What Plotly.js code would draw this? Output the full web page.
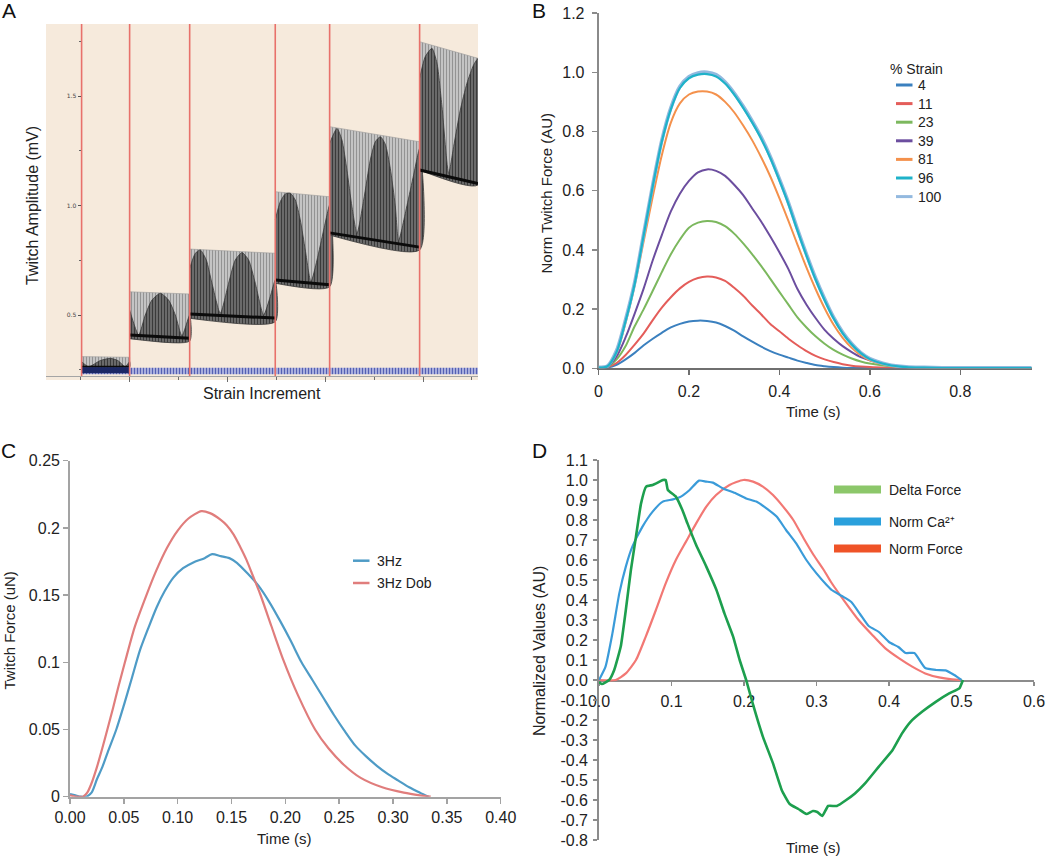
<!DOCTYPE html>
<html><head><meta charset="utf-8">
<script src="https://cdn.plot.ly/plotly-3.0.1.min.js"></script>
<style>html,body{margin:0;padding:0;background:#fff}</style>
</head><body>
<div id="chart" style="width:1050px;height:857px"></div>
<script>
// ---------------- Panel A data (strain increments, raw twitch trace envelopes) ----------------
const aBoundaries   = [0.509, 1.0, 1.614, 2.489, 3.045, 3.965];
const aRightEdge    = 4.562;
const aTopStart     = [0.310, 0.606, 0.801, 1.063, 1.360, 1.748];
const aTopEnd       = [0.307, 0.596, 0.782, 1.040, 1.291, 1.672];
const aBottomStart  = [0.262, 0.392, 0.485, 0.645, 0.865, 1.162];
const aBottomEnd    = [0.262, 0.381, 0.469, 0.629, 0.797, 1.094];
const aBlackStart   = [0.262, 0.409, 0.505, 0.660, 0.875, 1.162];
const aBlackEnd     = [0.262, 0.394, 0.486, 0.638, 0.810, 1.100];
const aDarkX = [
  [0.509, 0.581, 0.70, 0.802, 0.88, 0.956, 1.0],
  [1.0, 1.092, 1.16, 1.228, 1.314, 1.399, 1.467, 1.535, 1.614],
  [1.614, 1.672, 1.723, 1.784, 1.842, 1.927, 2.012, 2.08, 2.149, 2.217, 2.285, 2.37, 2.438, 2.489],
  [2.489, 2.54, 2.592, 2.643, 2.694, 2.745, 2.796, 2.854, 2.916, 2.984, 3.045],
  [3.045, 3.12, 3.171, 3.222, 3.273, 3.325, 3.393, 3.461, 3.512, 3.563, 3.614, 3.665, 3.716, 3.75, 3.836, 3.904, 3.965],
  [3.965, 4.023, 4.091, 4.143, 4.194, 4.262, 4.313, 4.381, 4.449, 4.517, 4.562]
];
const aDarkY = [
  [0.287, 0.264, 0.292, 0.302, 0.292, 0.264, 0.287],
  [0.523, 0.409, 0.50, 0.568, 0.599, 0.568, 0.50, 0.405, 0.50],
  [0.713, 0.782, 0.797, 0.751, 0.645, 0.508, 0.645, 0.751, 0.785, 0.751, 0.645, 0.50, 0.584, 0.66],
  [0.934, 1.017, 1.053, 1.056, 1.025, 0.934, 0.797, 0.652, 0.751, 0.888, 1.002],
  [1.284, 1.352, 1.299, 1.162, 0.995, 0.873, 1.025, 1.208, 1.291, 1.314, 1.28, 1.17, 1.0, 0.84, 1.0, 1.14, 1.261],
  [1.581, 1.68, 1.718, 1.649, 1.451, 1.147, 1.269, 1.436, 1.558, 1.642, 1.67]
];
const aBandBottom = 0.229, aBandTop = 0.259;          // stimulus marker band
const aFirstBandBottom = 0.234, aFirstBandTop = 0.262; // dark band in first increment

// ---------------- Panel B data ----------------
const bTime = [0, 0.02, 0.04, 0.06, 0.08, 0.10, 0.12, 0.14, 0.16, 0.18, 0.20, 0.22, 0.24, 0.26, 0.28, 0.30, 0.32, 0.34, 0.36, 0.38, 0.40, 0.42, 0.44, 0.46, 0.48, 0.50, 0.52, 0.54, 0.56, 0.58, 0.60, 0.64, 0.68, 0.72, 0.76, 0.80, 0.88, 0.958];
const bStrain4   = [0.002, 0.003, 0.012, 0.03, 0.052, 0.078, 0.1, 0.12, 0.138, 0.15, 0.158, 0.161, 0.16, 0.155, 0.143, 0.127, 0.108, 0.09, 0.073, 0.058, 0.046, 0.036, 0.026, 0.018, 0.011, 0.007, 0.004, 0.002, 0.001, 0.001, 0.001, 0.001, 0.001, 0.001, 0.001, 0.001, 0.001, 0.001];
const bStrain11  = [0.002, 0.004, 0.018, 0.045, 0.08, 0.118, 0.163, 0.205, 0.24, 0.27, 0.292, 0.305, 0.31, 0.307, 0.295, 0.272, 0.245, 0.212, 0.182, 0.15, 0.125, 0.1, 0.078, 0.058, 0.042, 0.03, 0.021, 0.014, 0.009, 0.006, 0.004, 0.002, 0.001, 0.001, 0.001, 0.001, 0.001, 0.001];
const bStrain23  = [0.002, 0.005, 0.03, 0.075, 0.142, 0.2, 0.262, 0.325, 0.385, 0.435, 0.475, 0.492, 0.498, 0.494, 0.48, 0.455, 0.422, 0.385, 0.345, 0.302, 0.258, 0.215, 0.172, 0.138, 0.108, 0.083, 0.062, 0.046, 0.033, 0.023, 0.016, 0.008, 0.004, 0.002, 0.001, 0.001, 0.001, 0.001];
const bStrain39  = [0.002, 0.006, 0.04, 0.105, 0.185, 0.27, 0.365, 0.45, 0.53, 0.59, 0.633, 0.662, 0.672, 0.667, 0.65, 0.62, 0.585, 0.54, 0.495, 0.445, 0.392, 0.335, 0.268, 0.215, 0.17, 0.13, 0.1, 0.075, 0.055, 0.038, 0.027, 0.012, 0.005, 0.002, 0.001, 0.001, 0.001, 0.001];
const bStrain81  = [0.002, 0.007, 0.052, 0.155, 0.28, 0.43, 0.58, 0.72, 0.83, 0.895, 0.925, 0.935, 0.935, 0.925, 0.9, 0.865, 0.82, 0.77, 0.712, 0.648, 0.575, 0.498, 0.418, 0.34, 0.268, 0.203, 0.147, 0.103, 0.069, 0.044, 0.027, 0.011, 0.004, 0.002, 0.001, 0.001, 0.001, 0.001];
const bStrain96  = [0.002, 0.007, 0.055, 0.16, 0.285, 0.45, 0.615, 0.765, 0.875, 0.947, 0.98, 0.992, 0.994, 0.986, 0.962, 0.925, 0.88, 0.83, 0.775, 0.71, 0.635, 0.555, 0.465, 0.38, 0.3, 0.23, 0.168, 0.118, 0.08, 0.051, 0.031, 0.012, 0.004, 0.002, 0.001, 0.001, 0.001, 0.001];
const bStrain100 = [0.003, 0.008, 0.06, 0.165, 0.29, 0.455, 0.62, 0.77, 0.88, 0.952, 0.985, 0.998, 1.0, 0.992, 0.967, 0.93, 0.885, 0.835, 0.78, 0.715, 0.64, 0.56, 0.47, 0.385, 0.305, 0.235, 0.172, 0.122, 0.083, 0.053, 0.033, 0.013, 0.005, 0.003, 0.002, 0.002, 0.002, 0.002];
const bNames  = ['4', '11', '23', '39', '81', '96', '100'];
const bXTicks = [0, 0.2, 0.4, 0.6, 0.8];
const bXTickText = ['0', '0.2', '0.4', '0.6', '0.8'];

// ---------------- Panel C data ----------------
const cTime3Hz  = [0, 0.005, 0.01, 0.015, 0.02, 0.025, 0.03, 0.035, 0.043, 0.05, 0.057, 0.065, 0.073, 0.0805, 0.088, 0.096, 0.105, 0.115, 0.125, 0.132, 0.14, 0.148, 0.155, 0.165, 0.175, 0.185, 0.195, 0.205, 0.215, 0.225, 0.235, 0.245, 0.255, 0.265, 0.275, 0.285, 0.295, 0.305, 0.315, 0.325, 0.333];
const cForce3Hz = [0.002, 0.001, 0.0, 0.0, 0.003, 0.013, 0.022, 0.033, 0.05, 0.068, 0.087, 0.109, 0.126, 0.141, 0.153, 0.163, 0.17, 0.1745, 0.1775, 0.1805, 0.179, 0.1775, 0.174, 0.166, 0.157, 0.145, 0.131, 0.116, 0.1, 0.087, 0.074, 0.061, 0.049, 0.038, 0.03, 0.023, 0.017, 0.012, 0.007, 0.003, 0.0];
const cTimeDob  = [0, 0.006, 0.012, 0.016, 0.02, 0.025, 0.03, 0.035, 0.04, 0.045, 0.051, 0.06, 0.071, 0.08, 0.09, 0.1, 0.11, 0.122, 0.13, 0.14, 0.1455, 0.152, 0.158, 0.164, 0.17, 0.1765, 0.187, 0.198, 0.212, 0.2276, 0.24, 0.254, 0.27, 0.29, 0.31, 0.325, 0.335];
const cForceDob = [0.001, 0.0, 0.0, 0.003, 0.01, 0.022, 0.036, 0.051, 0.066, 0.082, 0.1, 0.126, 0.15, 0.168, 0.185, 0.198, 0.207, 0.2125, 0.211, 0.206, 0.202, 0.195, 0.186, 0.176, 0.164, 0.151, 0.127, 0.102, 0.075, 0.05, 0.036, 0.024, 0.014, 0.007, 0.003, 0.001, 0.0];
const cNames = ['3Hz', '3Hz Dob'];
const cXTicks = [0, 0.05, 0.1, 0.15, 0.2, 0.25, 0.3, 0.35, 0.4];
const cYTicks = [0, 0.05, 0.1, 0.15, 0.2, 0.25];
const cYTickText = ['0', '0.05', '0.1', '0.15', '0.2', '0.25'];

// ---------------- Panel D data ----------------
const dTimeDelta = [0, 0.004, 0.014, 0.021, 0.03, 0.037, 0.044, 0.051, 0.058, 0.065, 0.074, 0.081, 0.088, 0.092, 0.095, 0.106, 0.115, 0.122, 0.134, 0.148, 0.162, 0.173, 0.185, 0.194, 0.203, 0.212, 0.226, 0.24, 0.252, 0.263, 0.275, 0.286, 0.295, 0.301, 0.308, 0.316, 0.328, 0.341, 0.353, 0.367, 0.386, 0.405, 0.418, 0.43, 0.446, 0.465, 0.483, 0.497, 0.502];
const dDeltaForce = [-0.01, -0.02, 0, 0.05, 0.167, 0.35, 0.55, 0.717, 0.883, 0.967, 0.975, 0.987, 1.0, 1.0, 0.95, 0.917, 0.85, 0.783, 0.675, 0.567, 0.45, 0.333, 0.217, 0.1, 0, -0.117, -0.283, -0.417, -0.55, -0.62, -0.645, -0.67, -0.655, -0.66, -0.68, -0.63, -0.63, -0.6, -0.567, -0.517, -0.433, -0.35, -0.267, -0.208, -0.158, -0.108, -0.067, -0.042, 0];
const dTimeCa = [0, 0.009, 0.0185, 0.028, 0.037, 0.046, 0.06, 0.074, 0.088, 0.102, 0.113, 0.125, 0.138, 0.148, 0.157, 0.171, 0.189, 0.203, 0.217, 0.231, 0.245, 0.258, 0.272, 0.286, 0.3, 0.314, 0.321, 0.335, 0.348, 0.36, 0.372, 0.386, 0.4, 0.413, 0.423, 0.435, 0.45, 0.465, 0.478, 0.49, 0.5];
const dNormCa = [0, 0.067, 0.233, 0.433, 0.567, 0.667, 0.767, 0.842, 0.892, 0.903, 0.917, 0.95, 0.997, 0.992, 0.987, 0.958, 0.933, 0.908, 0.892, 0.858, 0.817, 0.75, 0.683, 0.6, 0.533, 0.475, 0.45, 0.42, 0.39, 0.33, 0.27, 0.24, 0.19, 0.165, 0.135, 0.135, 0.06, 0.05, 0.048, 0.025, 0];
const dTimeForce = [0, 0.023, 0.037, 0.051, 0.0645, 0.0785, 0.092, 0.106, 0.12, 0.134, 0.148, 0.1615, 0.18, 0.199, 0.2125, 0.226, 0.24, 0.254, 0.268, 0.282, 0.296, 0.31, 0.32, 0.339, 0.358, 0.377, 0.395, 0.414, 0.432, 0.45, 0.469, 0.487, 0.5];
const dNormForce = [0, 0, 0.033, 0.1, 0.217, 0.35, 0.483, 0.6, 0.692, 0.783, 0.867, 0.925, 0.975, 1.0, 0.992, 0.967, 0.925, 0.867, 0.8, 0.71, 0.625, 0.55, 0.49, 0.392, 0.3, 0.225, 0.158, 0.108, 0.067, 0.033, 0.013, 0.003, 0];
const dNames = ['Delta Force', 'Norm Ca²⁺', 'Norm Force'];
const dXTicks = [0, 0.1, 0.2, 0.3, 0.4, 0.5, 0.6];
const dYTicks = [1.1, 1.0, 0.9, 0.8, 0.7, 0.6, 0.5, 0.4, 0.3, 0.2, 0.1, 0.0, -0.1, -0.2, -0.3, -0.4, -0.5, -0.6, -0.7, -0.8];

// ---------------- styling ----------------
const FONT = 'Liberation Sans, Arial, Helvetica, sans-serif';
const W = 1050, H = 857;
const px = v => v / W;
const py = v => 1 - v / H;

const bColors = ['#3b80bf', '#e45d5a', '#7cb85e', '#6c4e9f', '#f4914c', '#1fb2c9', '#93b9df'];
const bWidths = [2, 2, 2, 2, 2, 2.2, 3.6];
const cColors = ['#4e9bc6', '#e07d7c'];
const dLineColors = ['#1d9f4e', '#3a9bd9', '#f27874'];
const dKeyColors = ['#8cc76a', '#2aa0dc', '#ef5327'];

const traces = [];

// ---- Panel A ----
const aSegEnds = aBoundaries.slice(1).concat([aRightEdge]);
for (let i = 0; i < aBoundaries.length; i++) {
  const s = aBoundaries[i], e = aSegEnds[i];
  traces.push({
    type: 'scatter', mode: 'lines', xaxis: 'x', yaxis: 'y', hoverinfo: 'skip',
    x: [s, e, e, s], y: [aBottomStart[i], aBottomEnd[i], aTopEnd[i], aTopStart[i]],
    fill: 'toself', fillcolor: '#c6c6c6', line: {width: 0.6, color: '#9a9a9a'},
    fillpattern: {shape: '|', size: 3, solidity: 0.45, fgcolor: '#939393', bgcolor: '#cfcfcf'}
  });
  traces.push({
    type: 'scatter', mode: 'lines', xaxis: 'x', yaxis: 'y', hoverinfo: 'skip',
    x: aDarkX[i].concat([e, s]), y: aDarkY[i].concat([aBottomEnd[i], aBottomStart[i]]),
    fill: 'toself', fillcolor: '#555555', line: {width: 0.8, color: '#3a3a3a', shape: 'spline', smoothing: 0.6},
    fillpattern: {shape: '|', size: 3, solidity: 0.5, fgcolor: '#3a3a3a', bgcolor: '#7a7a7a'}
  });
  traces.push({
    type: 'scatter', mode: 'lines', xaxis: 'x', yaxis: 'y', hoverinfo: 'skip',
    x: [s, e], y: [aBlackStart[i], aBlackEnd[i]], line: {width: 3, color: '#0b0b0b'}
  });
}
traces.push({
  type: 'scatter', mode: 'lines', xaxis: 'x', yaxis: 'y', hoverinfo: 'skip',
  x: [aBoundaries[0], aRightEdge, aRightEdge, aBoundaries[0]], y: [aBandBottom, aBandBottom, aBandTop, aBandTop],
  fill: 'toself', fillcolor: '#a9aee0', line: {width: 0},
  fillpattern: {shape: '|', size: 3, solidity: 0.5, fgcolor: '#5560b3', bgcolor: '#c3c6ea'}
});
traces.push({
  type: 'scatter', mode: 'lines', xaxis: 'x', yaxis: 'y', hoverinfo: 'skip',
  x: [aBoundaries[0], aBoundaries[1], aBoundaries[1], aBoundaries[0]], y: [aFirstBandBottom, aFirstBandBottom, aFirstBandTop, aFirstBandTop],
  fill: 'toself', fillcolor: '#1c2866', line: {width: 0}
});
const aYRange = [0.2215, 1.8288];
aBoundaries.forEach(b => traces.push({
  type: 'scatter', mode: 'lines', xaxis: 'x', yaxis: 'y', hoverinfo: 'skip',
  x: [b, b], y: aYRange, line: {width: 1.6, color: '#e8716b'}
}));

// ---- Panel B ----
const bSeries = [bStrain4, bStrain11, bStrain23, bStrain39, bStrain81, bStrain96, bStrain100];
const bOrder = [0, 1, 2, 3, 4, 6, 5];
bOrder.forEach(k => traces.push({
  type: 'scatter', mode: 'lines', xaxis: 'x2', yaxis: 'y2', name: bNames[k], cliponaxis: false,
  x: bTime, y: bSeries[k], line: {color: bColors[k], width: bWidths[k], shape: 'spline', smoothing: 0.8}
}));

// ---- Panel C ----
traces.push({type: 'scatter', mode: 'lines', xaxis: 'x3', yaxis: 'y3', name: cNames[0], cliponaxis: false,
  x: cTime3Hz, y: cForce3Hz, line: {color: cColors[0], width: 2.2, shape: 'spline', smoothing: 0.7}});
traces.push({type: 'scatter', mode: 'lines', xaxis: 'x3', yaxis: 'y3', name: cNames[1], cliponaxis: false,
  x: cTimeDob, y: cForceDob, line: {color: cColors[1], width: 2.2, shape: 'spline', smoothing: 0.7}});

// ---- Panel D ----
traces.push({type: 'scatter', mode: 'lines', xaxis: 'x4', yaxis: 'y4', name: dNames[2], cliponaxis: false,
  x: dTimeForce, y: dNormForce, line: {color: dLineColors[2], width: 2.2, shape: 'spline', smoothing: 0.6}});
traces.push({type: 'scatter', mode: 'lines', xaxis: 'x4', yaxis: 'y4', name: dNames[1], cliponaxis: false,
  x: dTimeCa, y: dNormCa, line: {color: dLineColors[1], width: 2.2, shape: 'spline', smoothing: 0.5}});
traces.push({type: 'scatter', mode: 'lines', xaxis: 'x4', yaxis: 'y4', name: dNames[0], cliponaxis: false,
  x: dTimeDelta, y: dDeltaForce, line: {color: dLineColors[0], width: 2.6, shape: 'spline', smoothing: 0.4}});

// ---------------- layout ----------------
const tickFont = {family: FONT, size: 16, color: '#222'};
const baseAxis = {showgrid: false, zeroline: false, fixedrange: true};

const shapes = [
  {type: 'rect', xref: 'paper', yref: 'paper', layer: 'below', x0: px(46), x1: px(478), y0: py(380), y1: py(24),
   fillcolor: '#f6eadc', line: {width: 0}}
];
const annotations = [];
const ann = (text, x, y, opts) => annotations.push(Object.assign({
  text, x: px(x), y: py(y), xref: 'paper', yref: 'paper', showarrow: false,
  xanchor: 'center', yanchor: 'middle', font: {family: FONT, size: 15, color: '#222'}
}, opts || {}));

// panel letters
ann('A', 9, 10, {font: {family: FONT, size: 21, color: '#111'}});
ann('B', 539, 10, {font: {family: FONT, size: 21, color: '#111'}});
ann('C', 8, 450, {font: {family: FONT, size: 21, color: '#111'}});
ann('D', 539, 450, {font: {family: FONT, size: 21, color: '#111'}});

// axis titles
ann('Strain Increment', 262, 393, {font: {family: FONT, size: 16, color: '#222'}});
ann('Twitch Amplitude (mV)', 33, 206, {textangle: -90, font: {family: FONT, size: 16, color: '#222'}});
ann('Norm Twitch Force (AU)', 545.5, 193, {textangle: -90, font: {family: FONT, size: 15, color: '#222'}});
ann('Time (s)', 812.5, 411.5, {font: {family: FONT, size: 15, color: '#222'}});
ann('Twitch Force (uN)', 8.5, 631, {textangle: -90, font: {family: FONT, size: 15, color: '#222'}});
ann('Time (s)', 284, 838.5, {font: {family: FONT, size: 15, color: '#222'}});
ann('Normalized Values (AU)', 539, 651, {textangle: -90, font: {family: FONT, size: 16, color: '#222'}});
ann('Time (s)', 812.5, 847.5, {font: {family: FONT, size: 15, color: '#222'}});

// legend B
ann('% Strain', 888, 69, {xanchor: 'left', font: {family: FONT, size: 14, color: '#222'}});
bNames.forEach((n, k) => {
  const yy = 85 + k * 18.6;
  shapes.push({type: 'line', xref: 'paper', yref: 'paper', x0: px(896), x1: px(912.5), y0: py(yy), y1: py(yy),
    line: {color: bColors[k], width: 3}});
  ann(n, 916, yy, {xanchor: 'left', font: {family: FONT, size: 14, color: '#222'}});
});
// legend C
cNames.forEach((n, k) => {
  const yy = 560.7 + k * 22.3;
  shapes.push({type: 'line', xref: 'paper', yref: 'paper', x0: px(353), x1: px(369.5), y0: py(yy), y1: py(yy),
    line: {color: cColors[k], width: 2.5}});
  ann(n, 374.5, yy, {xanchor: 'left', font: {family: FONT, size: 14, color: '#222'}});
});
// legend D
const dKeyY = [489.5, 521.5, 548.5];
dNames.forEach((n, k) => {
  shapes.push({type: 'rect', xref: 'paper', yref: 'paper', x0: px(834), x1: px(881), y0: py(dKeyY[k] + 4), y1: py(dKeyY[k] - 4),
    fillcolor: dKeyColors[k], line: {width: 0}});
  ann(n, 886.5, dKeyY[k], {xanchor: 'left', font: {family: FONT, size: 14, color: '#222'}});
});

const layout = {
  width: W, height: H, margin: {l: 0, r: 0, t: 0, b: 0, pad: 0},
  paper_bgcolor: '#ffffff', plot_bgcolor: 'rgba(0,0,0,0)', showlegend: false,
  font: {family: FONT, color: '#222'},
  // Panel A
  xaxis: Object.assign({}, baseAxis, {
    domain: [px(46), px(478)], range: [0.145, aRightEdge], anchor: 'y',
    tick0: 0, dtick: 1, ticks: 'outside', ticklen: 5, tickcolor: '#6d6d6d', tickwidth: 1,
    showticklabels: false, showline: true, linecolor: '#a5a5a5', linewidth: 1,
    minor: {dtick: 0.5, tick0: 0, ticks: 'outside', ticklen: 3, tickcolor: '#6d6d6d', showgrid: false}
  }),
  yaxis: Object.assign({}, baseAxis, {
    domain: [py(376), py(24)], range: aYRange, anchor: 'free', position: px(80.5),
    tick0: 0, dtick: 0.5, tickformat: '.1f', ticks: 'outside', ticklen: 3, tickcolor: '#555',
    tickfont: {family: 'DejaVu Sans', size: 6, color: '#444'}, showline: false, ticklabelstandoff: 0,
    minor: {dtick: 0.25, tick0: 0, ticks: 'outside', ticklen: 2, tickcolor: '#666', showgrid: false}
  }),
  // Panel B
  xaxis2: Object.assign({}, baseAxis, {
    domain: [px(598.5), px(1031.7)], range: [0, 0.958], anchor: 'y2',
    tickvals: bXTicks, ticktext: bXTickText, ticks: 'outside', ticklen: 5, tickcolor: '#6f6f6f', tickwidth: 1.5,
    showline: true, linecolor: '#6f6f6f', linewidth: 1.8, tickfont: tickFont, ticklabelstandoff: 3, layer: 'below traces'
  }),
  yaxis2: Object.assign({}, baseAxis, {
    domain: [py(368.3), py(13.1)], range: [0, 1.2], anchor: 'x2',
    tick0: 0, dtick: 0.2, tickformat: '.1f', ticks: 'outside', ticklen: 5, tickcolor: '#8a8a8a', tickwidth: 1.5,
    showline: true, linecolor: '#8a8a8a', linewidth: 1.8, tickfont: tickFont, ticklabelstandoff: 4, layer: 'below traces'
  }),
  // Panel C
  xaxis3: Object.assign({}, baseAxis, {
    domain: [px(70), px(500.7)], range: [0, 0.4], anchor: 'y3',
    tickvals: cXTicks, tickformat: '.2f', ticks: 'outside', ticklen: 5, tickcolor: '#a3a3a3', tickwidth: 1.5,
    showline: true, linecolor: '#a3a3a3', linewidth: 1.8, tickfont: tickFont, ticklabelstandoff: 0, layer: 'below traces'
  }),
  yaxis3: Object.assign({}, baseAxis, {
    domain: [py(796.7), py(460.7)], range: [0, 0.25], anchor: 'x3',
    tickvals: cYTicks, ticktext: cYTickText, ticks: 'outside', ticklen: 5, tickcolor: '#a3a3a3', tickwidth: 1.5,
    showline: true, linecolor: '#a3a3a3', linewidth: 1.8, tickfont: tickFont, ticklabelstandoff: 0, layer: 'below traces'
  }),
  // Panel D
  xaxis4: Object.assign({}, baseAxis, {
    domain: [px(599), px(1034)], range: [0, 0.6], anchor: 'free', position: py(680),
    tickvals: dXTicks, tickformat: '.1f', ticks: 'outside', ticklen: 4, tickcolor: '#8c8c8c', tickwidth: 1.5,
    showline: true, linecolor: '#8c8c8c', linewidth: 1.8, tickfont: tickFont, ticklabelstandoff: 2, layer: 'below traces'
  }),
  yaxis4: Object.assign({}, baseAxis, {
    domain: [py(840), py(460)], range: [-0.8, 1.1], anchor: 'x4',
    tickvals: dYTicks, ticktext: dYTicks.map(v => v.toFixed(1)), ticks: 'outside', ticklen: 4, tickcolor: '#8c8c8c', tickwidth: 1.5,
    showline: true, linecolor: '#8c8c8c', linewidth: 1.8, tickfont: tickFont, ticklabelstandoff: 2, layer: 'below traces'
  }),
  shapes: shapes,
  annotations: annotations
};

Plotly.newPlot('chart', traces, layout, {staticPlot: true, displayModeBar: false});
</script>
</body></html>
